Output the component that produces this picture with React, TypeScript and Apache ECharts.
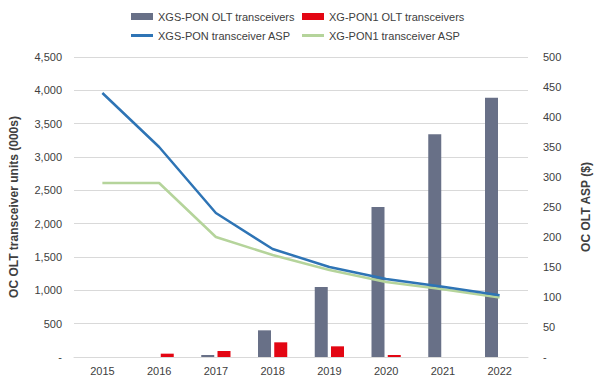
import React, { useEffect, useRef } from "react";
import * as echarts from "echarts";

const years = ["2015", "2016", "2017", "2018", "2019", "2020", "2021", "2022"];
const xgsUnits = [0, 0, 30, 400, 1050, 2250, 3340, 3890];
const xg1Units = [0, 50, 90, 220, 160, 30, 0, 0];
const xgsAsp = [440, 350, 240, 180, 150, 130, 117, 103];
const xg1Asp = [290, 290, 200, 170, 145, 125, 113, 99];

const FONT = "'Liberation Sans', Arial, sans-serif";
const TXT = "#404040";

const fmt = (v: number) => (v === 0 ? "-" : v.toLocaleString("en-US"));

export default function App() {
  const ref = useRef<HTMLDivElement>(null);
  useEffect(() => {
    if (!ref.current) return;
    const chart = echarts.init(ref.current, undefined, { renderer: "svg" });
    const legendBase = {
      textStyle: { color: TXT, fontSize: 11, fontFamily: FONT },
      itemWidth: 22,
      padding: 0,
    };
    chart.setOption({
      animation: false,
      textStyle: { fontFamily: FONT },
      legend: [
        { ...legendBase, left: 131, top: 11, itemHeight: 7, data: [{ name: "XGS-PON OLT transceivers", icon: "rect" }] },
        { ...legendBase, left: 302, top: 11, itemHeight: 7, data: [{ name: "XG-PON1 OLT transceivers", icon: "rect" }] },
        { ...legendBase, left: 131, top: 30, itemHeight: 3, data: [{ name: "XGS-PON transceiver ASP", icon: "rect" }] },
        { ...legendBase, left: 302, top: 30, itemHeight: 3, data: [{ name: "XG-PON1 transceiver ASP", icon: "rect" }] },
      ],
      grid: { left: 74, right: 68, top: 57, bottom: 28, containLabel: false },
      xAxis: {
        type: "category",
        data: years,
        axisLine: { lineStyle: { color: "#d9d9d9" } },
        axisTick: { show: false },
        axisLabel: { color: TXT, fontSize: 11, fontFamily: FONT, margin: 8 },
      },
      yAxis: [
        {
          type: "value",
          min: 0,
          max: 4500,
          interval: 500,
          name: "OC OLT transceiver units (000s)",
          nameLocation: "middle",
          nameRotate: 90,
          nameGap: 54,
          nameTextStyle: { color: TXT, fontSize: 12, fontWeight: "bold", fontFamily: FONT },
          axisLabel: { color: TXT, fontSize: 11, fontFamily: FONT, margin: 12, formatter: fmt },
          splitLine: { lineStyle: { color: "#d9d9d9" } },
          axisLine: { show: false },
          axisTick: { show: false },
        },
        {
          type: "value",
          min: 0,
          max: 500,
          interval: 50,
          name: "OC OLT ASP ($)",
          nameLocation: "middle",
          nameRotate: 90,
          nameGap: 52,
          nameTextStyle: { color: TXT, fontSize: 12, fontWeight: "bold", fontFamily: FONT },
          axisLabel: { color: TXT, fontSize: 11, fontFamily: FONT, margin: 15, formatter: fmt },
          splitLine: { show: false },
          axisLine: { show: false },
          axisTick: { show: false },
        },
      ],
      series: [
        {
          name: "XGS-PON OLT transceivers",
          type: "bar",
          data: xgsUnits,
          barWidth: 13,
          barGap: "25%",
          itemStyle: { color: "#687087" },
        },
        {
          name: "XG-PON1 OLT transceivers",
          type: "bar",
          data: xg1Units,
          barWidth: 13,
          itemStyle: { color: "#e30613" },
        },
        {
          name: "XGS-PON transceiver ASP",
          type: "line",
          yAxisIndex: 1,
          data: xgsAsp,
          symbol: "none",
          lineStyle: { color: "#2e74b5", width: 2.5 },
          itemStyle: { color: "#2e74b5" },
          z: 4,
        },
        {
          name: "XG-PON1 transceiver ASP",
          type: "line",
          yAxisIndex: 1,
          data: xg1Asp,
          symbol: "none",
          lineStyle: { color: "#b5d49b", width: 2.5 },
          itemStyle: { color: "#b5d49b" },
          z: 3,
        },
      ],
    });
    return () => chart.dispose();
  }, []);
  return <div ref={ref} style={{ width: 600, height: 385, position: "absolute", left: 0, top: 0 }} />;
}
